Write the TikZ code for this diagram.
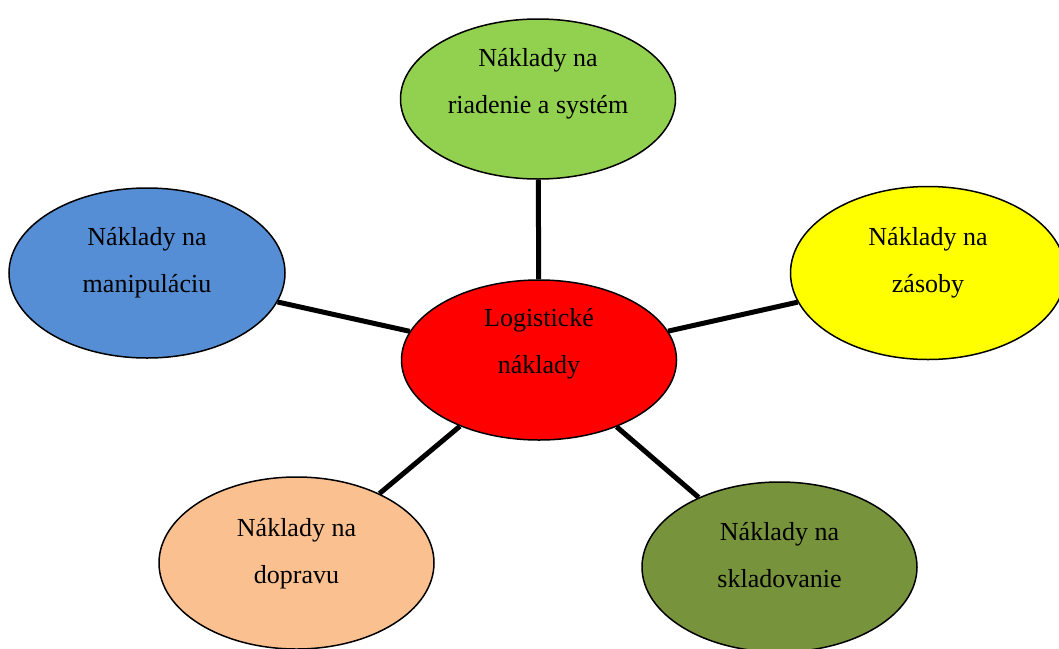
\documentclass[tikz,border=0pt]{standalone}
\usepackage{fontspec}
\setmainfont{Liberation Serif}
\usetikzlibrary{shapes.geometric,calc,backgrounds}
\definecolor{cgreen}{HTML}{92D050}
\definecolor{cblue}{HTML}{558ED5}
\definecolor{cyellow}{HTML}{FFFF00}
\definecolor{cred}{HTML}{FF0000}
\definecolor{cpeach}{HTML}{FAC090}
\definecolor{colive}{HTML}{77933C}
\tikzset{
  ell/.style={ellipse, draw=black, line width=1.5pt, inner sep=0pt,
    minimum width=275pt, minimum height=168pt},
  lbl/.style={align=center, inner sep=0pt, font=\fontsize{26pt}{47pt}\selectfont},
  link/.style={line width=5pt, draw=black}
}
\begin{document}
\begin{tikzpicture}[x=1pt,y=-1pt]
\useasboundingbox (0,0) rectangle (1059,648);
\clip (0,0) rectangle (1059,648);
\node[ell, fill=cred, minimum height=160pt] (c) at (539,360) {};
\node[ell, fill=cgreen, minimum height=160pt] (g) at (538,99) {};
\node[ell, fill=cblue, minimum height=170pt, minimum width=276pt] (b) at (147,273) {};
\node[ell, fill=cyellow, minimum height=173pt] (y) at (928,273) {};
\node[ell, fill=cpeach, minimum height=172pt] (p) at (296.5,563) {};
\node[ell, fill=colive, minimum height=170pt] (o) at (779.5,567) {};
\begin{scope}[on background layer]
\draw[link] (c) -- (g);
\draw[link] (c) -- (b);
\draw[link] (c) -- (y);
\draw[link] (c) -- (p);
\draw[link] (c) -- (o);
\end{scope}
\node[lbl] (ct) at ($(c)+(0,-16)$) {Logistické\\náklady};
\node[lbl] (gt) at ($(g)+(0,-15)$) {Náklady na\\riadenie a systém};
\node[lbl] (bt) at ($(b)+(0,-10)$) {Náklady na\\manipuláciu};
\node[lbl] (yt) at ($(y)+(0,-10)$) {Náklady na\\zásoby};
\node[lbl] (pt) at ($(p)+(0,-9)$) {Náklady na\\dopravu};
\node[lbl] (ot) at ($(o)+(0,-12)$) {Náklady na\\skladovanie};
\end{tikzpicture}
\end{document}
